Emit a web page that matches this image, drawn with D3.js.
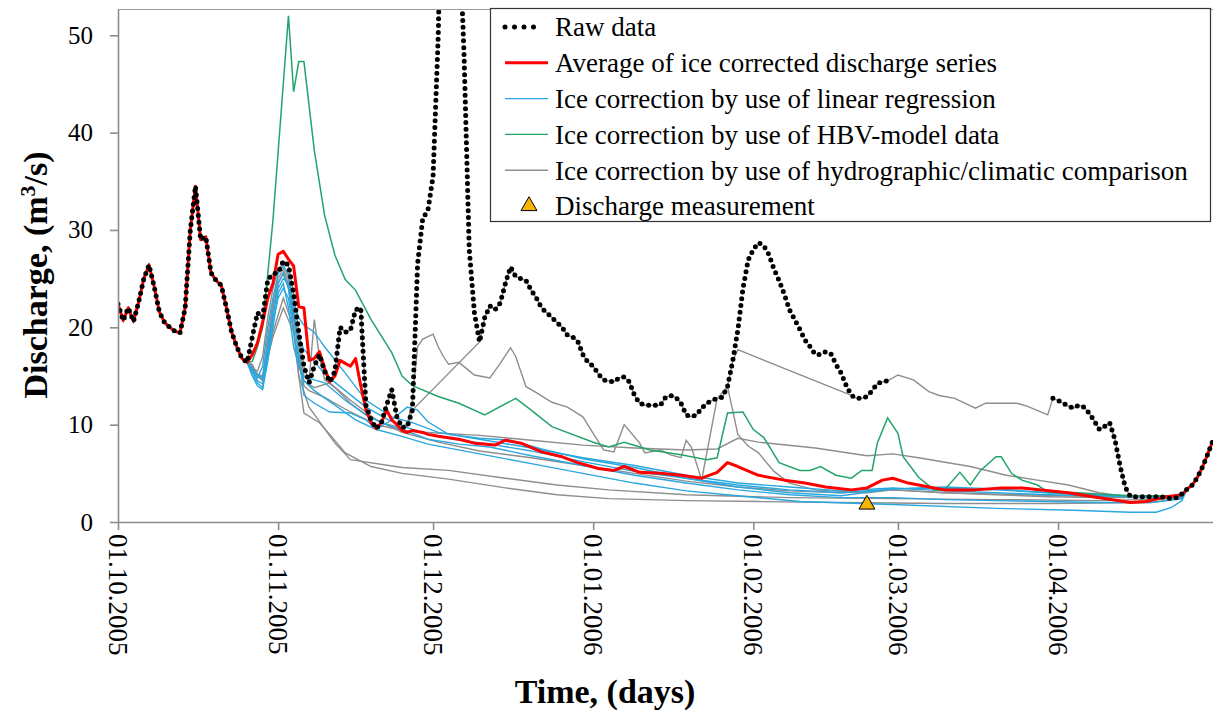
<!DOCTYPE html>
<html>
<head>
<meta charset="utf-8">
<script src="https://cdn.jsdelivr.net/npm/d3@7"></script>
<style>
body { margin: 0; background: #fff; }
</style>
</head>
<body>
<div id="chart"></div>
<script>

// ---- data (day = days after 01.10.2005) ----

// raw daily discharge, null = no data
var raw = [
	22.4, 20.7, 22.0, 20.6, 22.6, 25.0, 26.4, 24.2, 21.6, 20.5,
	20.0, 19.6, 19.4, 22.0, 30.0, 34.5, 29.0, 29.3, 25.6, 24.8,
	24.3, 22.0, 19.5, 18.0, 16.8, 16.4, 19.0, 21.5, 21.0, 24.9,
	25.5, 25.6, 26.8, 26.4, 23.5, 19.5, 16.0, 14.3, 16.0, 17.2,
	15.5, 14.4, 15.5, 20.0, 19.5, 19.7, 21.8, 22.0, 12.0, 10.5,
	9.6, 10.2, 12.0, 13.6, 10.8, 9.7, 9.8, 11.5, 26.5, 31.2,
	32.0, 35.5, 50.0, 75.0, 90.0, 85.0, 62.0, 48.0, 28.0, 21.5,
	18.5, 21.0, 22.2, 21.8, 22.5, 24.5, 26.2, 25.2, 25.0, 24.8,
	23.8, 23.0, 22.0, 21.5, 21.0, 20.5, 20.0, 19.2, 19.0, 18.6,
	17.2, 16.4, 16.0, 15.2, 14.6, 14.5, 14.4, 14.8, 14.9, 14.4,
	13.0, 12.2, 12.0, 12.0, 12.0, 12.0, 12.8, 13.0, 12.8, 12.2,
	11.0, 10.8, 11.0, 11.7, 12.2, 12.5, 12.7, 12.8, 13.9, 16.5,
	19.7, 24.0, 26.9, 28.0, 28.7, 28.4, 27.5, 26.0, 24.8, 23.4,
	21.8, 20.8, 19.8, 18.7, 18.0, 17.2, 17.2, 17.5, 17.3, 16.2,
	15.3, 14.0, 13.0, 12.7, 12.7, 12.9, 13.5, 14.2, 14.4, 14.5,
	null, null, null, null, null, null, null, null, null, null,
	null, null, null, null, null, null, null, null, null, null,
	null, null, null, null, null, null, null, null, null, null,
	null, 12.7, 12.5, 12.2, 11.9, 11.7, 12.0, 11.8, 11.2, 10.4,
	9.5, 9.8, 10.2, 8.5, 5.8, 3.6, 2.6, 2.6, 2.6, 2.6,
	2.6, 2.6, 2.6, 2.5, 2.4, 2.5, 2.9, 3.4, 3.8, 4.6,
	5.7, 7.0, 8.4
];

// corrected series: [day, value] from day 26 to 206 (before and after they equal raw)
var average = [[26,17.2],[27,18.4],[28,20.5],[29,23.0],[30,24.5],[31,27.5],[32,27.8],[33,27.0],[34,26.3],[35,22.1],[36,22.0],[37,16.6],[38,16.8],[39,17.5],[40,15.8],[41,14.4],[42,15.0],[43,16.6],[44,16.3],[45,16.0],[46,16.8],[47,14.0],[48,11.5],[49,10.2],[50,9.6],[51,10.2],[52,11.5],[53,10.5],[54,10.0],[55,9.4],[56,9.2],[57,9.4],[58,9.3],[59,9.2],[60,9.0],[62,8.8],[66,8.5],[69,8.1],[73,7.9],[75,8.4],[78,8.1],[82,7.2],[86,6.7],[89,6.1],[93,5.5],[96,5.3],[98,5.7],[101,5.1],[105,5.0],[109,4.8],[113,4.5],[116,5.1],[118,6.1],[120,5.7],[124,4.8],[129,4.3],[133,4.0],[137,3.6],[142,3.3],[145,3.5],[148,4.3],[150,4.5],[153,4.0],[157,3.6],[160,3.3],[166,3.3],[171,3.5],[175,3.5],[184,3.0],[190,2.5],[196,2.0],[199,2.1],[203,2.6],[206,2.8]];

var linReg1 = [[26,15.5],[27,14.8],[28,16.0],[29,20.0],[30,23.0],[31,25.5],[32,26.3],[33,25.5],[34,22.5],[35,21.0],[36,20.2],[38,19.5],[40,18.0],[44,15.3],[48,12.5],[53,10.8],[57,10.2],[62,9.2],[70,8.5],[80,7.6],[90,6.6],[100,5.8],[110,4.8],[120,4.0],[130,3.6],[140,3.2],[150,3.5],[160,3.2],[170,3.0],[180,2.8],[190,2.7],[206,2.6]];
var linReg2 = [[26,15.2],[27,14.3],[28,13.8],[29,17.5],[30,21.0],[31,24.5],[32,25.6],[33,24.0],[34,20.8],[35,19.0],[36,17.7],[38,16.5],[40,15.2],[44,13.5],[48,11.8],[52,10.6],[56,9.7],[60,9.0],[65,8.5],[72,8.0],[80,7.3],[90,6.2],[100,5.2],[110,4.5],[120,3.8],[130,3.3],[140,3.0],[150,3.4],[160,3.5],[170,3.3],[180,3.0],[190,2.8],[206,2.6]];
var linReg3 = [[26,15.0],[27,14.0],[28,13.6],[29,16.5],[30,20.0],[31,23.5],[32,24.5],[33,22.0],[34,18.0],[35,16.0],[36,14.9],[38,14.6],[40,14.3],[44,12.5],[48,11.0],[52,10.0],[56,9.3],[60,8.5],[66,8.0],[72,7.7],[80,6.8],[90,5.8],[100,4.8],[110,4.0],[120,3.3],[130,2.8],[140,2.5],[150,2.5],[160,2.3],[170,2.2],[180,2.1],[190,2.0],[200,2.0],[206,2.4]];
var linReg4 = [[26,15.8],[27,15.0],[28,14.8],[29,18.0],[30,21.5],[31,24.0],[32,25.0],[33,24.5],[34,21.5],[35,17.0],[36,13.0],[38,12.2],[41,11.3],[45,11.2],[48,10.5],[50,9.5],[53,10.5],[56,11.8],[58,11.5],[60,10.3],[64,9.0],[70,8.6],[76,8.4],[82,7.5],[90,6.5],[100,5.6],[110,4.5],[120,3.6],[130,3.0],[140,2.7],[150,3.4],[160,3.6],[170,3.4],[180,3.0],[190,2.7],[200,2.5],[206,2.5]];
var linReg5 = [[26,15.5],[27,14.5],[28,14.2],[29,17.0],[30,20.5],[31,23.0],[32,24.0],[33,23.0],[34,19.5],[35,16.5],[36,14.5],[38,13.5],[42,12.0],[46,10.5],[50,9.5],[55,8.8],[60,8.0],[70,7.0],[80,6.0],[90,5.0],[100,4.0],[110,3.2],[120,2.7],[132,2.1],[150,1.8],[170,1.4],[185,1.2],[196,1.0],[201,1.0],[204,1.5],[206,2.2]];

var hbv = [[26,16.5],[27,18.0],[28,20.0],[29,25.5],[30,31.0],[31,38.0],[32,45.0],[33,52.0],[34,44.2],[35,47.3],[36,47.3],[38,38.2],[40,31.5],[42,27.4],[44,24.9],[46,23.8],[49,20.8],[53,17.4],[55,15.0],[57,14.0],[62,12.9],[66,12.2],[71,11.0],[77,12.7],[80,11.5],[84,9.8],[92,8.2],[95,7.7],[98,8.2],[103,7.4],[109,6.9],[114,6.4],[116,6.6],[118,11.2],[121,11.3],[123,9.5],[125,8.7],[128,6.1],[132,5.3],[134,5.3],[136,5.7],[139,4.8],[142,4.5],[144,5.3],[146,5.3],[147,8.1],[149,10.7],[151,9.1],[152,6.7],[155,4.6],[158,3.3],[160,3.3],[163,5.1],[165,3.8],[167,5.3],[170,6.7],[171,6.7],[173,5.0],[175,4.3],[178,3.8],[180,3.1],[186,3.0],[195,2.7],[206,2.7]];

// hydrographic 1 follows raw on these day spans, own values in between
var hydro1Spans = [[26,57],[70,119],[142,149],[181,206]];
var hydro1 = [[120,17.7],[151,15.1],[154,14.6],[157,13.4],[159,13.0],[162,12.7],[166,11.7],[168,12.2],[174,12.2],[176,11.9],[180,11.0]];
var hydro2 = [[26,15.8],[27,15.5],[28,17.0],[29,21.0],[30,24.0],[31,26.0],[32,26.5],[33,25.0],[34,22.0],[35,18.5],[36,15.0],[37,14.5],[38,20.8],[39,17.0],[40,14.6],[42,13.8],[45,12.2],[48,11.0],[51,10.2],[54,9.8],[56,10.0],[57,12.5],[58,18.0],[59,18.8],[61,19.3],[62,18.0],[63,17.0],[64,16.2],[66,16.4],[69,15.1],[72,14.8],[74,16.3],[76,17.9],[77,17.0],[79,13.9],[81,13.3],[84,12.3],[87,11.8],[90,10.8],[92,9.1],[94,7.4],[96,7.2],[98,10.0],[101,8.1],[102,7.1],[105,7.4],[107,6.9],[109,6.6],[110,8.4],[111,7.7],[113,4.3],[116,12.7],[118,13.9],[119,11.5],[120,9.0],[122,7.8],[124,7.1],[127,5.2],[130,4.0],[135,3.3],[145,3.0],[150,3.3],[160,3.0],[170,2.8],[180,2.6],[190,2.5],[206,2.5]];
var hydro3 = [[26,16.0],[27,15.2],[28,15.0],[29,19.0],[30,22.5],[31,25.0],[32,26.0],[33,24.5],[34,21.0],[35,17.5],[36,14.0],[37,13.5],[40,12.8],[45,11.3],[50,10.0],[55,9.4],[60,9.2],[70,8.9],[80,8.4],[90,7.9],[100,7.6],[110,7.4],[116,7.5],[120,8.6],[124,8.2],[135,7.6],[145,6.8],[150,7.0],[155,6.6],[165,5.7],[172,4.8],[178,4.3],[184,3.8],[190,3.0],[197,2.5],[206,2.5]];
var hydro4 = [[26,16.2],[27,15.0],[28,14.5],[29,18.5],[30,22.0],[31,24.5],[32,25.5],[33,24.0],[34,20.0],[35,16.0],[36,14.5],[38,13.8],[41,14.3],[45,12.5],[50,10.5],[55,9.2],[62,8.2],[70,7.3],[80,6.6],[90,5.8],[100,5.0],[110,4.2],[120,3.6],[130,3.2],[140,3.0],[150,3.3],[160,3.0],[175,2.8],[190,2.6],[206,2.5]];
var hydro5 = [[26,15.5],[28,14.8],[30,19.0],[32,22.0],[34,19.5],[35,15.0],[36,11.2],[39,10.2],[41,9.0],[44,7.1],[49,5.7],[55,5.0],[64,4.4],[75,3.5],[85,2.8],[95,2.4],[110,2.2],[124,2.1],[140,2.0],[160,1.9],[180,1.9],[200,2.0],[206,2.4]];
var hydro6 = [[26,15.7],[28,14.6],[30,19.5],[32,23.0],[34,20.0],[35,15.0],[37,11.8],[42,8.1],[45,6.4],[55,5.6],[64,5.3],[75,4.5],[85,3.8],[95,3.3],[110,2.8],[130,2.5],[150,2.4],[170,2.3],[190,2.2],[206,2.4]];

var measurement = [[145, 1.8]];

var tickLabels = ["01.10.2005", "01.11.2005", "01.12.2005", "01.01.2006", "01.02.2006", "01.03.2006", "01.04.2006"];
var yTicks = [0, 10, 20, 30, 40, 50];
var legendLabels = ["Raw data", "Average of ice corrected discharge series", "Ice correction by use of linear regression", "Ice correction by use of HBV-model data", "Ice correction by use of hydrographic/climatic comparison", "Discharge measurement"];

// ---- layout ----
var W = 1213, H = 717;
var plotL = 118, plotR = 1213, plotT = 9, plotB = 522;
var serif = '"Liberation Serif", "Times New Roman", Times, "DejaVu Serif", serif';

var blue = '#2aa7df', green = '#23a46b', gray = '#8e8e8e', red = '#ff0000';

var start = Date.UTC(2005, 9, 1);
function toDate(d) { return new Date(start + d * 864e5); }
var parseTick = d3.utcParse("%d.%m.%Y");

var x = d3.scaleUtc()
	.domain([toDate(0), toDate(212)])
	.range([plotL, plotR]);
var y = d3.scaleLinear()
	.domain([0, 52.7])
	.range([plotB, plotT]);

var svg = d3.select('#chart').append('svg')
	.attr('width', W)
	.attr('height', H)
	.attr('font-family', serif);

svg.append('defs').append('clipPath').attr('id', 'clip')
	.append('rect')
	.attr('x', plotL).attr('y', plotT)
	.attr('width', plotR - plotL).attr('height', plotB - plotT);

// all corrected series equal raw before day 26 and after day 206
var rawPts = raw.map(function(v, i) { return [i, v]; });
function withRaw(pts) {
	return rawPts.slice(0, 26).concat(pts, rawPts.slice(207));
}
function followRaw(spans, own) {
	var pts = own.slice();
	spans.forEach(function(s) {
		for (var i = s[0]; i <= s[1]; i++) pts.push([i, raw[i]]);
	});
	pts.sort(function(a, b) { return a[0] - b[0]; });
	return withRaw(pts);
}

var line = d3.line()
	.defined(function(d) { return d[1] != null; })
	.x(function(d) { return x(toDate(d[0])); })
	.y(function(d) { return y(d[1]); });

var plot = svg.append('g').attr('clip-path', 'url(#clip)');

var grays = [followRaw(hydro1Spans, hydro1), withRaw(hydro2), withRaw(hydro3), withRaw(hydro4), withRaw(hydro5), withRaw(hydro6)];
var blues = [linReg1, linReg2, linReg3, linReg4, linReg5].map(withRaw);

grays.forEach(function(s) {
	plot.append('path').attr('d', line(s))
		.attr('fill', 'none').attr('stroke', gray).attr('stroke-width', 1.4);
});
blues.forEach(function(s) {
	plot.append('path').attr('d', line(s))
		.attr('fill', 'none').attr('stroke', blue).attr('stroke-width', 1.4);
});
plot.append('path').attr('d', line(withRaw(hbv)))
	.attr('fill', 'none').attr('stroke', green).attr('stroke-width', 1.5);
plot.append('path').attr('d', line(withRaw(average)))
	.attr('fill', 'none').attr('stroke', red).attr('stroke-width', 3)
	.attr('stroke-linejoin', 'round');
plot.append('path').attr('d', line(rawPts))
	.attr('fill', 'none').attr('stroke', '#000').attr('stroke-width', 5)
	.attr('stroke-linecap', 'round').attr('stroke-dasharray', '0 6.8');

var tri = d3.symbol().type(d3.symbolTriangle).size(110);
svg.selectAll('.meas').data(measurement).enter().append('path')
	.attr('class', 'meas')
	.attr('d', tri)
	.attr('transform', function(d) { return 'translate(' + x(toDate(d[0])) + ',' + y(d[1]) + ')'; })
	.attr('fill', '#f5b400').attr('stroke', '#000').attr('stroke-width', 1);

// ---- axes ----
svg.append('line')
	.attr('x1', plotL).attr('x2', plotR).attr('y1', plotT + 0.5).attr('y2', plotT + 0.5)
	.attr('stroke', '#9a9a9a').attr('stroke-width', 1);

var yAxis = svg.append('g')
	.attr('transform', 'translate(' + plotL + ',0)')
	.call(d3.axisLeft(y).tickValues(yTicks).tickSize(8).tickPadding(17).tickSizeOuter(0));
yAxis.attr('font-family', serif);
yAxis.selectAll('text').style('font-size', '25px');

var xAxis = svg.append('g')
	.attr('transform', 'translate(0,' + plotB + ')')
	.call(d3.axisBottom(x).tickValues(tickLabels.map(parseTick)).tickFormat(d3.utcFormat("%d.%m.%Y")).tickSize(8).tickSizeOuter(0));
xAxis.attr('font-family', serif);
xAxis.selectAll('text')
	.style('font-size', '27px')
	.attr('text-anchor', 'start')
	.attr('transform', 'rotate(90)')
	.attr('x', 12).attr('y', 0).attr('dy', '0.35em');

svg.selectAll('.domain, .tick line').attr('stroke', '#8c8c8c').attr('stroke-width', 1.6);

// titles
svg.append('text')
	.attr('x', 605).attr('y', 703)
	.attr('text-anchor', 'middle')
	.style('font-size', '34px').style('font-weight', 'bold')
	.text('Time, (days)');

var yt = svg.append('text')
	.attr('transform', 'translate(47,275) rotate(-90)')
	.attr('text-anchor', 'middle')
	.style('font-size', '34px').style('font-weight', 'bold');
yt.append('tspan').text('Discharge, (m');
yt.append('tspan').attr('baseline-shift', 'super').style('font-size', '22px').text('3');
yt.append('tspan').text('/s)');

// ---- legend ----
var lg = svg.append('g');
lg.append('rect')
	.attr('x', 490.5).attr('y', 8.5).attr('width', 720).attr('height', 213)
	.attr('fill', '#fff').attr('stroke', '#333').attr('stroke-width', 1.2);

var rowY = d3.scalePoint().domain(legendLabels).range([27, 206]);
legendLabels.forEach(function(t, i) {
	var yy = rowY(t);
	if (i == 0) {
		lg.append('line').attr('x1', 505).attr('x2', 543).attr('y1', yy).attr('y2', yy)
			.attr('stroke', '#000').attr('stroke-width', 5)
			.attr('stroke-linecap', 'round').attr('stroke-dasharray', '0 9.5');
	} else if (i == 5) {
		lg.append('path').attr('d', tri)
			.attr('transform', 'translate(529,' + yy + ')')
			.attr('fill', '#f5b400').attr('stroke', '#000').attr('stroke-width', 1);
	} else {
		var c = [red, blue, green, gray][i - 1];
		lg.append('line').attr('x1', 505).attr('x2', 548).attr('y1', yy).attr('y2', yy)
			.attr('stroke', c).attr('stroke-width', i == 1 ? 3 : 1.4);
	}
	lg.append('text')
		.attr('x', 555).attr('y', yy).attr('dy', '0.35em')
		.style('font-size', '27px')
		.text(t);
});

svg.selectAll('text').style('font-family', serif);

</script>
</body>
</html>
